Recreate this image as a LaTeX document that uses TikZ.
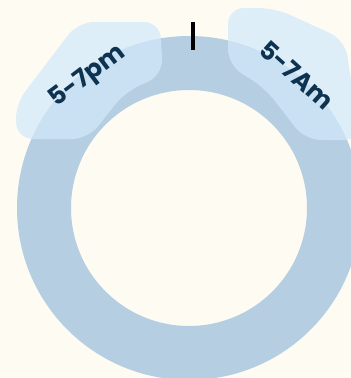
\documentclass[tikz,border=0pt]{standalone}
\usepackage{fontspec}
\setmainfont{Poppins}
\usetikzlibrary{positioning}
\definecolor{paper}{HTML}{FEFBF3}
\definecolor{ringc}{HTML}{B5CEE1}
\definecolor{blobc}{RGB}{211,233,250}
\definecolor{ink}{HTML}{0E3350}
\tikzset{blob/.style={fill=blobc,fill opacity=0.72,rounded corners=16pt},slot/.style={font=\bfseries\fontsize{25}{25}\selectfont,text=ink,inner sep=0pt}}

\begin{document}
\begin{tikzpicture}[x=1pt,y=-1pt]
\fill[paper](0,0)rectangle(351,378);
\useasboundingbox(0,0)rectangle(351,378);
\clip(0,0)rectangle(351,378);
\coordinate (c) at (189,208);
\fill[ringc,even odd rule](c)circle[radius=172pt](c)circle[radius=118pt];
\draw[line width=3.2pt,black](193,22)--(193,50);
\fill[blob](78,22)--(160,22)--(163,75)--(125,92)--(88,139)--(17,139)--(15,105)--cycle;
\fill[blob](228,8)--(275,8)--(345,40)--(360,140)--(305,140)--(265,88)--(228,65)--cycle;
\node[slot,rotate=37] (pm) at (88,77){5-7pm};
\node[slot,rotate=-42] (am) at (297,75){5-7Am};
\end{tikzpicture}
\end{document}
